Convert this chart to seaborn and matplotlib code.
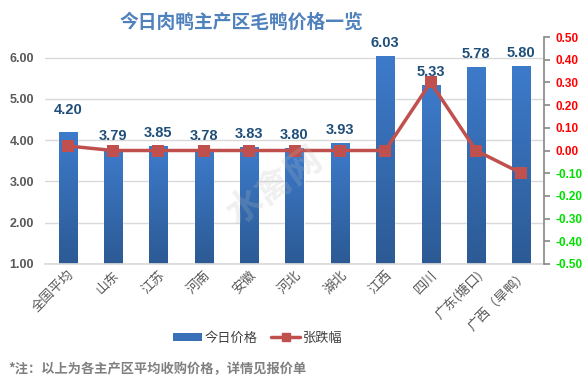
import numpy as np
import pandas as pd
import matplotlib
matplotlib.use("Agg")
import matplotlib.pyplot as plt
import seaborn as sns
from matplotlib.colors import LinearSegmentedColormap

regions = ["全国平均", "山东", "江苏", "河南", "安徽", "河北", "湖北", "江西", "四川", "广东(塘口)", "广西（旱鸭）"]
prices = [4.20, 3.79, 3.85, 3.78, 3.83, 3.80, 3.93, 6.03, 5.33, 5.78, 5.80]
changes = [0.02, 0.00, 0.00, 0.00, 0.00, 0.00, 0.00, 0.00, 0.30, 0.00, -0.10]
left_ticks = [1.00, 2.00, 3.00, 4.00, 5.00, 6.00]
right_ticks = [0.50, 0.40, 0.30, 0.20, 0.10, 0.00, -0.10, -0.20, -0.30, -0.40, -0.50]

sns.set_theme(style="white")
plt.rcParams['font.family'] = ['Noto Sans CJK SC', 'DejaVu Sans']

df = pd.DataFrame({"region": regions, "price": prices, "change": changes})

fig = plt.figure(figsize=(5.85, 3.89), dpi=100)
ax = fig.add_axes([45/585, 1-264/389, (544-45)/585, (264-37)/389])

sns.barplot(data=df, x="region", y="price", ax=ax, color="#3A70B8", width=0.4, saturation=1)
ax.set_ylim(1.0, 6.5)
ax.set_xlim(-0.5, len(regions) - 0.5)

# gradient fill on bars
cmap = LinearSegmentedColormap.from_list("g", ["#2C5A94", "#3D7BCB"])
grad = np.linspace(0, 1, 256).reshape(-1, 1)
for p in ax.patches:
    x0, y0 = p.get_x(), p.get_y()
    w, h = p.get_width(), p.get_height()
    im = ax.imshow(grad, extent=[x0, x0 + w, 1.0, y0 + h], origin="lower",
                   cmap=cmap, aspect="auto", zorder=2)
    im.set_clip_path(p)
ax.set_xlim(-0.5, len(regions) - 0.5)
ax.set_ylim(1.0, 6.5)

numfont = ['Liberation Sans', 'DejaVu Sans']
for i, v in enumerate(prices):
    off = 0.53 if i == 0 else 0.32
    ax.text(i, v + off, f"{v:.2f}", ha="center", va="center", fontsize=10.5,
            fontweight="bold", color="#1F4E79", family=numfont, zorder=5)

ax.set_yticks(left_ticks)
ax.set_yticklabels([f"{t:.2f}" for t in left_ticks], fontsize=9, color="#595959", fontweight="bold", family=numfont)
ax.yaxis.grid(True, color="#D9D9D9", linewidth=1)
ax.set_axisbelow(True)
for s in ["top", "right", "left"]:
    ax.spines[s].set_visible(False)
ax.spines["bottom"].set_color("#D9D9D9")
ax.tick_params(axis="y", length=0, pad=8)
ax.tick_params(axis="x", length=0, pad=3)
ax.set_xticks(range(len(regions)))
ax.set_xticklabels(regions, rotation=45, ha="right", rotation_mode="anchor", fontsize=9.5, color="#595959")
ax.set_xlabel("")
ax.set_ylabel("")

ax2 = ax.twinx()
sns.lineplot(x=np.arange(len(regions)), y=changes, ax=ax2, color="#C0504D", linewidth=2.5,
             marker="s", markersize=8, markeredgewidth=0, zorder=4)
ax2.set_ylim(-0.5, 0.5)
ax2.set_yticks(right_ticks)
ax2.set_yticklabels([f"{t:.2f}" for t in right_ticks], fontsize=8.5, fontweight="bold", family=numfont)
for lab, t in zip(ax2.get_yticklabels(), right_ticks):
    lab.set_color("#FF0000" if t >= 0 else "#00E000")
for s in ["top", "left", "bottom"]:
    ax2.spines[s].set_visible(False)
ax2.spines["right"].set_color("#8C8C8C")
ax2.tick_params(axis="y", length=4, color="#8C8C8C", pad=4, direction="out")
ax2.grid(False)

# watermark
fig.text(0.47, 0.52, "水禽网", fontsize=26, color="#BBBBBB", alpha=0.22, rotation=35,
         ha="center", va="center", fontweight="bold")

fig.text(241/585, 1 - 22/389, "今日肉鸭主产区毛鸭价格一览", ha="center", va="center", fontsize=13.5,
         fontweight="bold", color="#4F81BD")

from matplotlib.patches import Patch
from matplotlib.lines import Line2D
handles = [Patch(facecolor="#3A70B8", edgecolor="none"),
           Line2D([0], [0], color="#C0504D", linewidth=2.5, marker="s", markersize=6)]
fig.legend(handles, ["今日价格", "张跌幅"], loc="center", bbox_to_anchor=(258/585, 1 - 338/389),
           ncol=2, frameon=False, fontsize=9.5, handlelength=2.2, handleheight=0.5, handletextpad=0.2,
           columnspacing=1.0, labelcolor="#404040")

fig.text(8/585, 1 - 369/389, "*注：以上为各主产区平均收购价格，详情见报价单", fontsize=9.5,
         color="#7F7F7F", fontweight="bold", va="center", ha="left")

fig.savefig("out.png", dpi=100)
